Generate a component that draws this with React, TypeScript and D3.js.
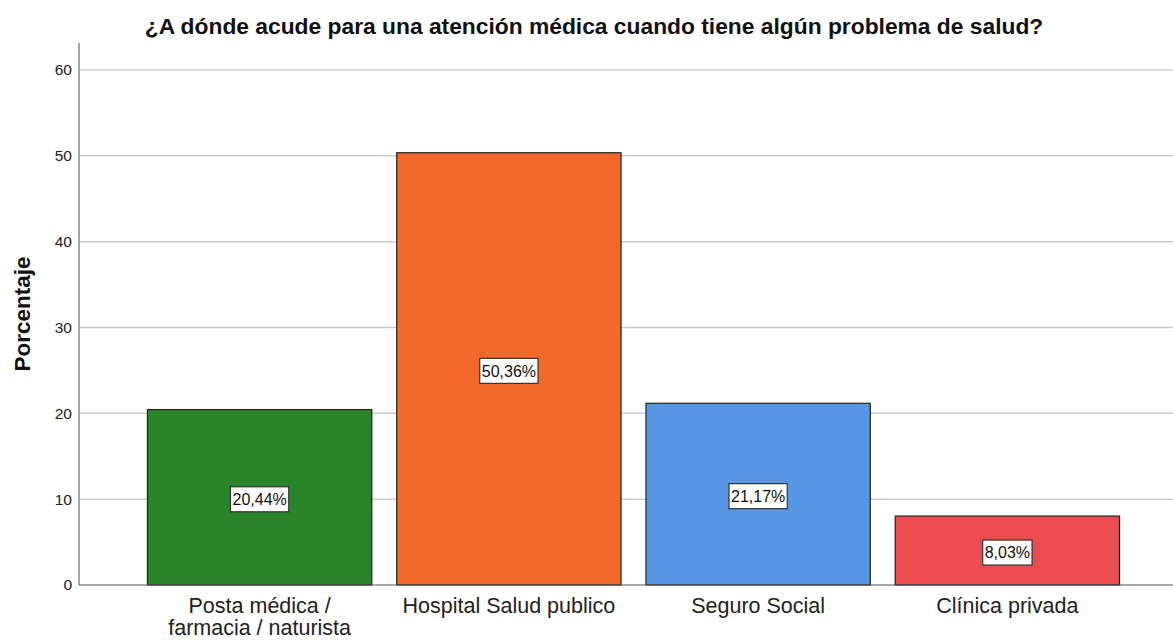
import React, { useEffect, useRef } from "react";
import * as d3 from "d3";

const title = "¿A dónde acude para una atención médica cuando tiene algún problema de salud?";
const categories = [
  ["Posta médica /", "farmacia / naturista"],
  ["Hospital Salud publico"],
  ["Seguro Social"],
  ["Clínica privada"],
];
const percentages = [20.44, 50.36, 21.17, 8.03];
const barColors = ["#2a852a", "#f2692c", "#5696e3", "#eb4c4d"];
const yTicks = [0, 10, 20, 30, 40, 50, 60];

export default function App() {
  const ref = useRef<SVGSVGElement>(null);

  useEffect(() => {
    const width = 1173;
    const svg = d3.select(ref.current);
    svg.selectAll("*").remove();

    const font = "'Liberation Sans', Arial, sans-serif";
    const axisX = 79;
    const plotTop = 43;

    const keys = categories.map((c) => c.join(" "));
    const x = d3
      .scaleBand()
      .domain(keys)
      .range([135, 1132])
      .paddingInner(0.1)
      .paddingOuter(0.05);

    const y = d3.scaleLinear().domain([0, 60]).range([585, 70]);

    // gridlines
    svg
      .append("g")
      .selectAll("line")
      .data(yTicks.filter((t) => t > 0))
      .enter()
      .append("line")
      .attr("x1", axisX)
      .attr("x2", width)
      .attr("y1", (d) => y(d))
      .attr("y2", (d) => y(d))
      .attr("stroke", "#cccccc")
      .attr("stroke-width", 1.5);

    // y tick labels
    svg
      .append("g")
      .selectAll("text")
      .data(yTicks)
      .enter()
      .append("text")
      .attr("x", axisX - 7)
      .attr("y", (d) => y(d))
      .attr("dy", "0.35em")
      .attr("text-anchor", "end")
      .attr("font-family", font)
      .attr("font-size", 15.5)
      .attr("fill", "#222")
      .text((d) => d);

    // bars
    svg
      .append("g")
      .selectAll("rect")
      .data(percentages)
      .enter()
      .append("rect")
      .attr("x", (d, i) => x(keys[i])!)
      .attr("y", (d) => y(d))
      .attr("width", x.bandwidth())
      .attr("height", (d) => y(0) - y(d))
      .attr("fill", (d, i) => barColors[i])
      .attr("stroke", "#222")
      .attr("stroke-width", 1.2);

    // axes
    svg
      .append("line")
      .attr("x1", axisX)
      .attr("x2", axisX)
      .attr("y1", plotTop)
      .attr("y2", y(0))
      .attr("stroke", "#888")
      .attr("stroke-width", 1.5);
    svg
      .append("line")
      .attr("x1", axisX)
      .attr("x2", width)
      .attr("y1", y(0))
      .attr("y2", y(0))
      .attr("stroke", "#555")
      .attr("stroke-width", 1.2);

    // value labels
    const labels = svg
      .append("g")
      .selectAll("g")
      .data(percentages)
      .enter()
      .append("g")
      .attr(
        "transform",
        (d, i) => `translate(${x(keys[i])! + x.bandwidth() / 2},${(y(d) + y(0)) / 2 + 2})`
      );
    labels
      .append("text")
      .attr("text-anchor", "middle")
      .attr("dy", "0.36em")
      .attr("font-family", font)
      .attr("font-size", 16)
      .attr("fill", "#111")
      .text((d) => d.toFixed(2).replace(".", ",") + "%")
      .each(function () {
        const bb = (this as SVGTextElement).getBBox();
        d3.select((this as SVGTextElement).parentNode as SVGGElement)
          .insert("rect", "text")
          .attr("x", bb.x - 2)
          .attr("y", -12.5)
          .attr("width", bb.width + 4)
          .attr("height", 25)
          .attr("fill", "#fff")
          .attr("stroke", "#333")
          .attr("stroke-width", 1.2);
      });

    // x category labels
    const cats = svg
      .append("g")
      .selectAll("text")
      .data(categories)
      .enter()
      .append("text")
      .attr("x", (d, i) => x(keys[i])! + x.bandwidth() / 2)
      .attr("y", 613)
      .attr("text-anchor", "middle")
      .attr("font-family", font)
      .attr("font-size", 21.5)
      .attr("fill", "#222");
    cats
      .selectAll("tspan")
      .data((d) => d)
      .enter()
      .append("tspan")
      .attr("x", function () {
        return (this as SVGTSpanElement).parentElement!.getAttribute("x");
      })
      .attr("dy", (d, i) => (i === 0 ? 0 : 22))
      .text((d) => d);

    // y axis title
    svg
      .append("text")
      .attr("transform", `translate(30,${(plotTop + y(0)) / 2}) rotate(-90)`)
      .attr("text-anchor", "middle")
      .attr("font-family", font)
      .attr("font-size", 22.5)
      .attr("font-weight", "bold")
      .attr("fill", "#111")
      .text("Porcentaje");

    // title
    svg
      .append("text")
      .attr("x", 594)
      .attr("y", 34)
      .attr("text-anchor", "middle")
      .attr("font-family", font)
      .attr("font-size", 22.8)
      .attr("font-weight", "bold")
      .attr("fill", "#111")
      .text(title);
  }, []);

  return (
    <svg
      ref={ref}
      width={1173}
      height={641}
      style={{ position: "absolute", left: 0, top: 0, background: "#fff" }}
    ></svg>
  );
}
